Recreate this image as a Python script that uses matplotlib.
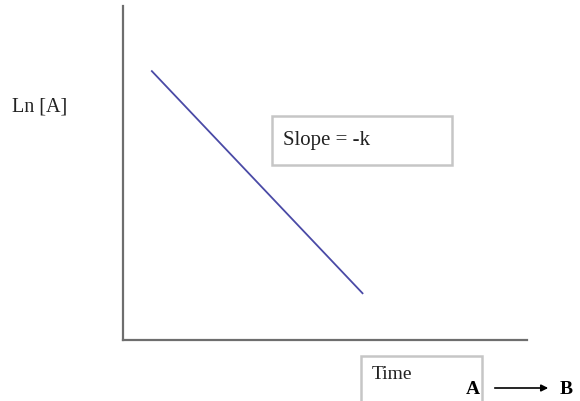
import matplotlib.pyplot as plt
from matplotlib.patches import Rectangle

# first order kinetics: ln[A] falls linearly with time
time = [1.0, 8.3]
ln_a = [8.05, 1.4]

y_label = "Ln [A]"
slope_label = "Slope = -k"
x_label = "Time"
start_label = "A"
end_label = "B"

plt.rcParams["font.family"] = ["Liberation Serif", "DejaVu Serif"]

fig = plt.figure(figsize=(5.8, 4.02), dpi=100)
W, H = 580, 402


def fx(px):
    return px / W


def fy(py):
    return 1 - py / H


ax = fig.add_axes([fx(123), fy(341), fx(527) - fx(123), fy(7) - fy(341)])
ax.plot(time, ln_a, color="#4a4aa6", linewidth=1.3)
ax.set_xlim(0, 14)
ax.set_ylim(0, 10)
for side in ["top", "right"]:
    ax.spines[side].set_visible(False)
for side in ["left", "bottom"]:
    ax.spines[side].set_color("#6e6e6e")
    ax.spines[side].set_linewidth(1.6)
ax.set_xticks([])
ax.set_yticks([])

fig.text(fx(12), fy(107), y_label, fontsize=14.5, va="center", ha="left", color="#222222")

# slope box
fig.patches.append(Rectangle((fx(272), fy(166)), fx(452) - fx(272), fy(117) - fy(166),
                             transform=fig.transFigure, fill=False,
                             edgecolor="#c6c6c6", linewidth=1.8))
fig.text(fx(283), fy(141), slope_label, fontsize=15, va="center", ha="left", color="#222222")

# time box (runs off the bottom edge)
fig.patches.append(Rectangle((fx(361), fy(410)), fx(482) - fx(361), fy(357) - fy(410),
                             transform=fig.transFigure, fill=False,
                             edgecolor="#c6c6c6", linewidth=1.8))
fig.text(fx(372), fy(375), x_label, fontsize=14, va="center", ha="left", color="#222222")

# A -> B reaction arrow
fig.text(fx(473), fy(390), start_label, fontsize=14, fontweight="bold", va="center", ha="center")
fig.text(fx(566), fy(390), end_label, fontsize=14, fontweight="bold", va="center", ha="center")
fig.add_artist(plt.Line2D([fx(495), fx(545)], [fy(389), fy(389)], color="black", linewidth=1.2))
ax.annotate("", xy=(fx(551), fy(389)), xytext=(fx(540), fy(389)),
            xycoords="figure fraction", textcoords="figure fraction",
            arrowprops=dict(arrowstyle="-|>", color="black", lw=1.2, mutation_scale=10))

fig.savefig("out.png", dpi=100)
